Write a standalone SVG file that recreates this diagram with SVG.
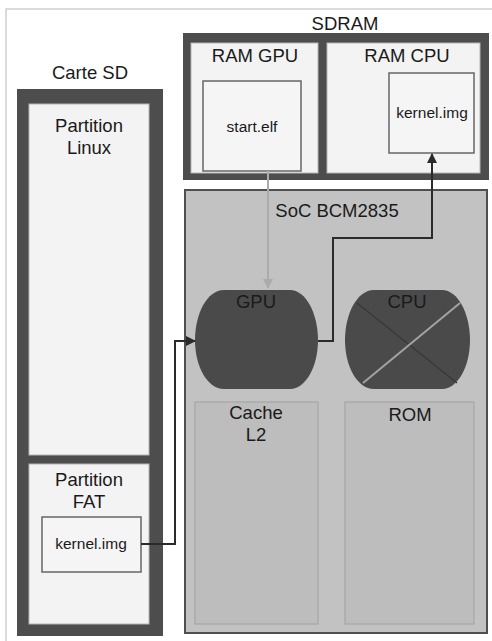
<svg xmlns="http://www.w3.org/2000/svg" width="492" height="641" viewBox="0 0 492 641">
<style>
text{font-family:"Liberation Sans",Arial,sans-serif;fill:#1a1a1a;text-anchor:middle}
.big{font-size:18.5px}
.small{font-size:15.5px}
.dark{fill:#4d4d4d}
.light{fill:#f3f3f3;stroke:#b5b5b5;stroke-width:1}
.file{fill:#f5f5f5;stroke:#666;stroke-width:1.5}
.sub{fill:#bdbdbd;stroke:#a5a5a5;stroke-width:1.2}
.chip{fill:#4a4a4a}
.conn{fill:none;stroke:#2b2b2b;stroke-width:2}
.conng{fill:none;stroke:#ababab;stroke-width:2}
</style>
<defs>
<marker id="ah" viewBox="0 0 10 10" refX="9" refY="5" markerWidth="5" markerHeight="5" orient="auto" markerUnits="strokeWidth">
<path d="M0,0 L10,5 L0,10 Z" fill="#2b2b2b"/>
</marker>
<marker id="ahg" viewBox="0 0 10 10" refX="9" refY="5" markerWidth="5" markerHeight="5" orient="auto" markerUnits="strokeWidth">
<path d="M0,0 L10,5 L0,10 Z" fill="#ababab"/>
</marker>
</defs>
<rect x="0" y="0" width="492" height="641" fill="#ffffff"/>
<rect x="6" y="9" width="520" height="700" fill="none" stroke="#cfcfcf" stroke-width="1.5"/>

<g id="sdcard">
<text class="big" x="90" y="79">Carte SD</text>
<rect class="dark" x="17" y="89" width="146" height="547"/>
</g>
<g id="partition-linux">
<rect class="light" x="29" y="104" width="120" height="351"/>
<text class="big" x="89" y="132">Partition</text>
<text class="big" x="89" y="154">Linux</text>
</g>
<g id="partition-fat">
<rect class="light" x="29" y="464" width="120" height="160"/>
<text class="big" x="89" y="486">Partition</text>
<text class="big" x="89" y="508">FAT</text>
</g>
<g id="kernel-fat">
<rect class="file" x="42" y="517" width="99" height="55"/>
<text class="small" x="91" y="549">kernel.img</text>
</g>

<g id="sdram">
<text class="big" x="345" y="30">SDRAM</text>
<rect class="dark" x="183" y="33" width="306" height="147"/>
</g>
<g id="ram-gpu">
<rect class="light" x="191" y="43" width="127" height="130"/>
<text class="big" x="255" y="62">RAM GPU</text>
</g>
<g id="start-elf">
<rect class="file" x="203" y="81" width="98" height="90"/>
<text class="small" x="252" y="132">start.elf</text>
</g>
<g id="ram-cpu">
<rect class="light" x="327" y="43" width="153" height="130"/>
<text class="big" x="407" y="62">RAM CPU</text>
</g>
<g id="kernel-ram">
<rect class="file" x="389" y="73" width="85" height="80"/>
<text class="small" x="432" y="118">kernel.img</text>
</g>

<g id="soc">
<rect x="185" y="190" width="302" height="443" fill="#c2c2c2" stroke="#4f4f4f" stroke-width="2"/>
<text class="big" x="337" y="217">SoC BCM2835</text>
</g>
<g id="gpu">
<path class="chip" d="M224,290 L290,290 C306,290 318,314 318,340 C318,366 306,389 290,389 L224,389 C207,389 195,366 195,340 C195,314 207,290 224,290 Z"/>
<text class="big" x="256" y="308">GPU</text>
</g>
<g id="cpu">
<path class="chip" d="M374,290 L442,290 C458,290 470,314 470,340 C470,366 458,389 442,389 L374,389 C357,389 345,366 345,340 C345,314 357,290 374,290 Z"/>
<line x1="357" y1="303" x2="457" y2="383" stroke="#383838" stroke-width="1.5"/>
<line x1="363" y1="383" x2="460" y2="303" stroke="#a3a3a3" stroke-width="2"/>
<text class="big" x="407" y="308">CPU</text>
</g>
<g id="cache-l2">
<rect class="sub" x="195" y="402" width="123" height="222"/>
<text class="big" x="256" y="419">Cache</text>
<text class="big" x="256" y="441">L2</text>
</g>
<g id="rom">
<rect class="sub" x="345" y="402" width="129" height="222"/>
<text class="big" x="410" y="421">ROM</text>
</g>

<g id="connectors">
<path class="conng" d="M268,171 L268,288" marker-end="url(#ahg)"/>
<path class="conn" d="M141,544 L175,544 L175,341 L195,341" marker-end="url(#ah)"/>
<path class="conn" d="M318,341 L333,341 L333,238 L432,238 L432,154" marker-end="url(#ah)"/>
</g>
</svg>
